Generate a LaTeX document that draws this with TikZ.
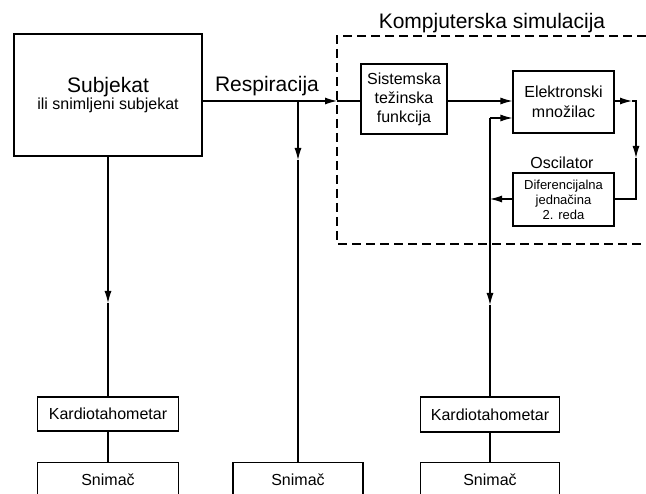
\documentclass[tikz,border=0pt]{standalone}
\usepackage{fontspec}
\setmainfont{Liberation Sans}
\usetikzlibrary{arrows.meta}
\begin{document}
\begin{tikzpicture}[x=1pt,y=-1pt, line width=1.1pt,
  box/.style={draw, rectangle, inner sep=0pt, align=center},
  tip/.style={-{Latex[length=12pt,width=7pt]}},
  f16/.style={font=\fontsize{16}{19}\selectfont},
  f21/.style={font=\fontsize{21}{24}\selectfont},
  snim/.style={box, f16, anchor=north, text height=12pt, text depth=45pt, inner ysep=11pt, minimum height=0pt},
  simbox/.style={draw, dash pattern=on 9pt off 5pt}]
\clip (0,0) rectangle (646,494);
\fill[white] (0,0) rectangle (646,494);

% boxes
\node[box, minimum width=188pt, minimum height=122pt] (subj) at (108,95)
  {\fontsize{21}{21}\selectfont Subjekat\\\fontsize{16}{19.5}\selectfont ili snimljeni subjekat};
\node[box, f16, minimum width=86pt, minimum height=70pt] (sist) at (404,99)
  {Sistemska\\težinska\\funkcija};
\node[box, f16, font=\fontsize{16}{20}\selectfont, minimum width=101pt, minimum height=62pt] (elek) at (563.5,102)
  {Elektronski\\množilac};
\node[box, font=\fontsize{13}{15}\selectfont, minimum width=101pt, minimum height=53pt] (dif) at (563.5,199.5)
  {Diferencijalna\\jednačina\\2. reda};
\node[box, f16, minimum width=141pt, minimum height=34pt] (kL) at (108,414) {Kardiotahometar};
\node[box, f16, minimum width=139pt, minimum height=35pt] (kR) at (490,414.5) {Kardiotahometar};
\node[snim, minimum width=141pt] (sL) at (108,462) {Snimač};
\node[snim, minimum width=130pt] (sM) at (298,462) {Snimač};
\node[snim, minimum width=139pt] (sR) at (490,462) {Snimač};

% labels
\node[f21] (resp) at (267,86) {Respiracija};
\node[f21] (komp) at (492,23) {Kompjuterska simulacija};
\node[f16] (osc) at (562,163) {Oscilator};

% dashed simulation frame (open to the right, clipped by the page)
\draw[simbox] (660,36) -- (337,36) -- (337,244) -- (660,244);

% coordinates
\coordinate (rin) at (337,101);
\coordinate (br1) at (298,101);
\coordinate (m1) at (298,160);
\coordinate (l1) at (108,303);
\coordinate (fb) at (490,118);
\coordinate (r1) at (490,305);
\coordinate (c0) at (632,101);
\coordinate (c1) at (636,101);
\coordinate (c2) at (636,158);
\coordinate (c3) at (636,199);

% connectors
\draw[tip] (subj.east |- rin) -- (rin);
\draw (rin) -- (sist.west |- rin);
\draw[tip] (br1) -- (m1);
\draw (m1) -- (sM.north);
\draw[tip] (subj.south) -- (l1);
\draw (l1) -- (kL.north);
\draw (kL.south) -- (sL.north);
\draw[tip] (sist.east |- rin) -- (elek.west |- rin);
\draw[tip] (fb) -- (elek.west |- fb);
\draw[tip] (fb) -- (r1);
\draw (r1) -- (kR.north);
\draw (kR.south) -- (sR.north);
\draw[tip] (elek.east |- rin) -- (c0);
\draw[tip] (c0) -- (c1) -- (c2);
\draw (c2) -- (c3) -- (dif.east |- c3);
\draw[tip] (dif.west |- c3) -- (fb |- c3);
\end{tikzpicture}
\end{document}
